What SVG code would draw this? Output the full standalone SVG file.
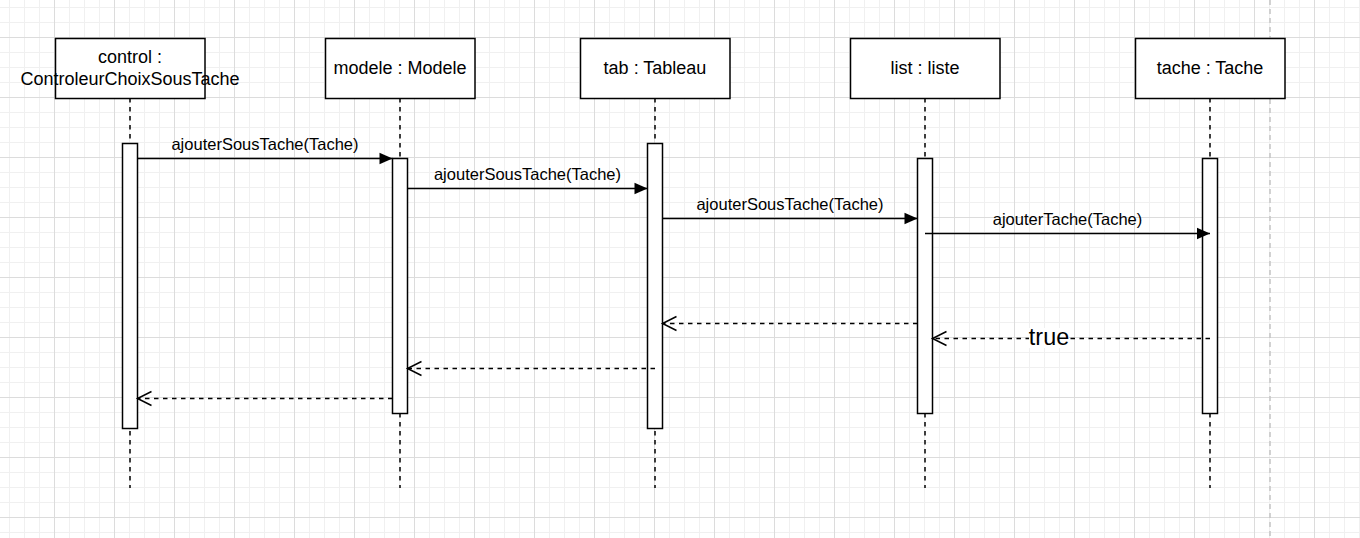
<svg xmlns="http://www.w3.org/2000/svg" width="1360" height="538" viewBox="0 0 1360 538">
  <defs>
    <pattern id="grid" x="54" y="37" width="60" height="60" patternUnits="userSpaceOnUse">
      <path d="M15.5,0 V60 M30.5,0 V60 M45.5,0 V60 M0,15.5 H60 M0,30.5 H60 M0,45.5 H60" stroke="#f0f0f0" stroke-width="1" fill="none"/>
      <path d="M0.5,0 V60 M0,0.5 H60" stroke="#dcdcdc" stroke-width="1" fill="none"/>
    </pattern>
    <marker id="block" markerUnits="userSpaceOnUse" markerWidth="14" markerHeight="12" refX="13" refY="5.75" orient="auto" overflow="visible">
      <path d="M0,0 L13,5.75 L0,11.5 Z" fill="#000"/>
    </marker>
    <marker id="open" markerUnits="userSpaceOnUse" markerWidth="16" markerHeight="16" refX="14" refY="7" orient="auto" overflow="visible">
      <path d="M0,0 L14,7 L0,14" fill="none" stroke="#000" stroke-width="1.5"/>
    </marker>
  </defs>
  <style>
    .box { fill: #fff; stroke: #000; stroke-width: 1.5; }
    .act { fill: #fff; stroke: #000; stroke-width: 1.5; }
    .life { stroke: #000; stroke-width: 1.5; stroke-dasharray: 4.5 4.5; fill: none; }
    .name { font-family: "Liberation Sans", Arial, sans-serif; font-size: 18px; fill: #000; text-anchor: middle; }
    .msg { stroke: #000; stroke-width: 1.5; fill: none; marker-end: url(#block); }
    .ret { stroke: #000; stroke-width: 1.5; fill: none; stroke-dasharray: 4.5 4.5; marker-end: url(#open); }
    .lbl { font-family: "Liberation Sans", Arial, sans-serif; font-size: 16.5px; fill: #000; text-anchor: middle; }
    .big { font-family: "Liberation Sans", Arial, sans-serif; font-size: 23.4px; fill: #000; text-anchor: middle; }
  </style>
  <rect width="1360" height="538" fill="#fff"/>
  <rect width="1360" height="538" fill="url(#grid)"/>
  <line x1="1270" y1="0" x2="1270" y2="538" stroke="#c4c4c4" stroke-width="1.5" stroke-dasharray="5 4"/>

  <g id="control">
    <line class="life" x1="130" y1="98" x2="130" y2="488"/>
    <rect class="box" x="55.5" y="38.5" width="149.5" height="60"/>
    <text class="name" x="130" y="63">control :</text>
    <text class="name" x="130" y="85">ControleurChoixSousTache</text>
    <rect class="act" x="122.5" y="143.5" width="15" height="285"/>
  </g>
  <g id="modele">
    <line class="life" x1="400" y1="98" x2="400" y2="488"/>
    <rect class="box" x="325.5" y="38.5" width="149.5" height="60"/>
    <text class="name" x="400" y="74">modele : Modele</text>
    <rect class="act" x="392.5" y="158.5" width="15" height="255"/>
  </g>
  <g id="tab">
    <line class="life" x1="655" y1="98" x2="655" y2="488"/>
    <rect class="box" x="580.5" y="38.5" width="149.5" height="60"/>
    <text class="name" x="655" y="74">tab : Tableau</text>
    <rect class="act" x="647.5" y="143.5" width="15" height="285"/>
  </g>
  <g id="list">
    <line class="life" x1="925" y1="98" x2="925" y2="488"/>
    <rect class="box" x="850.5" y="38.5" width="149.5" height="60"/>
    <text class="name" x="925" y="74">list : liste</text>
    <rect class="act" x="917.5" y="158.5" width="15" height="255"/>
  </g>
  <g id="tache">
    <line class="life" x1="1210" y1="98" x2="1210" y2="488"/>
    <rect class="box" x="1135.5" y="38.5" width="149.5" height="60"/>
    <text class="name" x="1210" y="74">tache : Tache</text>
    <rect class="act" x="1202.5" y="158.5" width="15" height="255"/>
  </g>

  <g id="connectors">
    <line class="msg" x1="137.5" y1="158.5" x2="392.5" y2="158.5"/>
    <text class="lbl" x="265" y="150">ajouterSousTache(Tache)</text>
    <line class="msg" x1="407.5" y1="188.5" x2="647.5" y2="188.5"/>
    <text class="lbl" x="527.5" y="180">ajouterSousTache(Tache)</text>
    <line class="msg" x1="662.5" y1="218.5" x2="917.5" y2="218.5"/>
    <text class="lbl" x="790" y="210">ajouterSousTache(Tache)</text>
    <line class="msg" x1="925" y1="233.5" x2="1210" y2="233.5"/>
    <text class="lbl" x="1067.5" y="225">ajouterTache(Tache)</text>

    <line class="ret" x1="917.5" y1="323.5" x2="662.5" y2="323.5"/>
    <line class="ret" x1="1210" y1="338.5" x2="932.5" y2="338.5"/>
    <rect x="1029" y="328" width="40" height="20" fill="#fff"/>
    <text class="big" x="1049" y="344.5">true</text>
    <line class="ret" x1="655" y1="368.5" x2="407.5" y2="368.5"/>
    <line class="ret" x1="392.5" y1="398.5" x2="137.5" y2="398.5"/>
  </g>
</svg>
